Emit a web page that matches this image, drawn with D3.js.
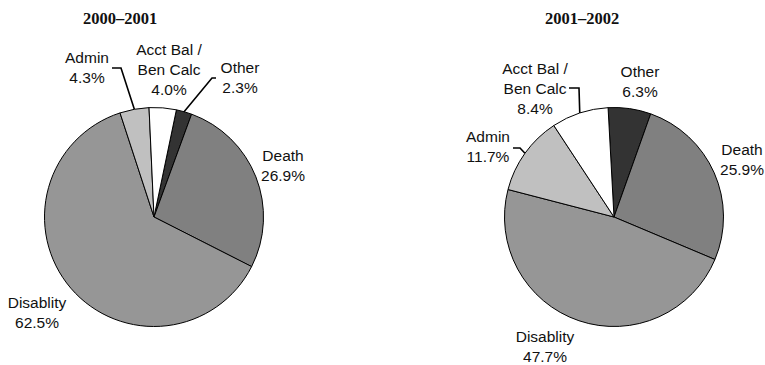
<!DOCTYPE html>
<html>
<head>
<meta charset="utf-8">
<script src="https://cdn.jsdelivr.net/npm/d3@7"></script>
<style>
  body { margin: 0; background: #fff; }
  .lbl { font-family: "Liberation Sans", Arial, sans-serif; font-size: 15.5px; fill: #111; }
  .ttl { font-family: "Liberation Serif", "Times New Roman", serif; font-size: 16.5px; font-weight: bold; fill: #111; }
</style>
</head>
<body>
<svg id="chart" width="765" height="365"></svg>
<script>
// data
var categories = ["Other", "Death", "Disablity", "Admin", "Acct Bal / Ben Calc"];
var values2001 = [2.3, 26.9, 62.5, 4.3, 4.0];
var values2002 = [6.3, 25.9, 47.7, 11.7, 8.4];
var titles = ["2000\u20132001", "2001\u20132002"];

var width = 765, height = 365, radius = 109.5;

var color = d3.scaleOrdinal()
  .domain(categories)
  .range(["#333333", "#808080", "#969696", "#c0c0c0", "#ffffff"]);

var svg = d3.select("#chart");

// layout for each pie: center, rotation, title spot, label spots
var pies = [
  {
    values: values2001, title: titles[0], cx: 154, cy: 217, start: 11.8, tx: 120, ty: 24,
    labels: {
      "Other": { x: 240, y: 73, lines: ["Other"], leader: [216, 78, 212] },
      "Death": { x: 283, y: 161, lines: ["Death"] },
      "Disablity": { x: 37, y: 308, lines: ["Disablity"] },
      "Admin": { x: 87, y: 63, lines: ["Admin"], leader: [112, 68, 121] },
      "Acct Bal / Ben Calc": { x: 169, y: 55, lines: ["Acct Bal /", "Ben Calc"] }
    }
  },
  {
    values: values2002, title: titles[1], cx: 614, cy: 217, start: -3.1, tx: 582, ty: 24,
    labels: {
      "Other": { x: 640, y: 77, lines: ["Other"] },
      "Death": { x: 742, y: 155, lines: ["Death"] },
      "Disablity": { x: 545, y: 342, lines: ["Disablity"] },
      "Admin": { x: 488, y: 142, lines: ["Admin"], leader: [513, 148, 520] },
      "Acct Bal / Ben Calc": { x: 535, y: 74, lines: ["Acct Bal /", "Ben Calc"], leader: [569, 88, 579] }
    }
  }
];

var arc = d3.arc().innerRadius(0).outerRadius(radius);

pies.forEach(function(p) {
  var s = p.start * Math.PI / 180;
  var pie = d3.pie()
    .sort(null)
    .value(function(d) { return d.value; })
    .startAngle(s)
    .endAngle(s + 2 * Math.PI);
  var slices = pie(p.values.map(function(v, i) { return { name: categories[i], value: v }; }));

  svg.append("text")
    .attr("class", "ttl")
    .attr("x", p.tx)
    .attr("y", p.ty)
    .attr("text-anchor", "middle")
    .text(p.title);

  var g = svg.append("g").attr("transform", "translate(" + p.cx + "," + p.cy + ")");

  g.selectAll("path.slice")
    .data(slices)
    .enter()
    .append("path")
    .attr("class", "slice")
    .attr("d", arc)
    .attr("fill", function(d) { return color(d.data.name); })
    .attr("stroke", "#000")
    .attr("stroke-width", 1);

  slices.forEach(function(d) {
    var l = p.labels[d.data.name];
    var t = svg.append("text")
      .attr("class", "lbl")
      .attr("text-anchor", "middle");
    var lines = l.lines.concat([d.data.value.toFixed(1) + "%"]);
    lines.forEach(function(line, i) {
      t.append("tspan")
        .attr("x", l.x)
        .attr("y", l.y + i * 20)
        .text(line);
    });

    if (l.leader) {
      // leader ends on the pie edge at the middle of the slice
      var mid = (d.startAngle + d.endAngle) / 2;
      var ex = p.cx + radius * Math.sin(mid);
      var ey = p.cy - radius * Math.cos(mid);
      svg.append("path")
        .attr("d", "M" + l.leader[0] + "," + l.leader[1] +
                   "L" + l.leader[2] + "," + l.leader[1] +
                   "L" + ex + "," + ey)
        .attr("fill", "none")
        .attr("stroke", "#000")
        .attr("stroke-width", 1.6);
    }
  });
});
</script>
</body>
</html>
